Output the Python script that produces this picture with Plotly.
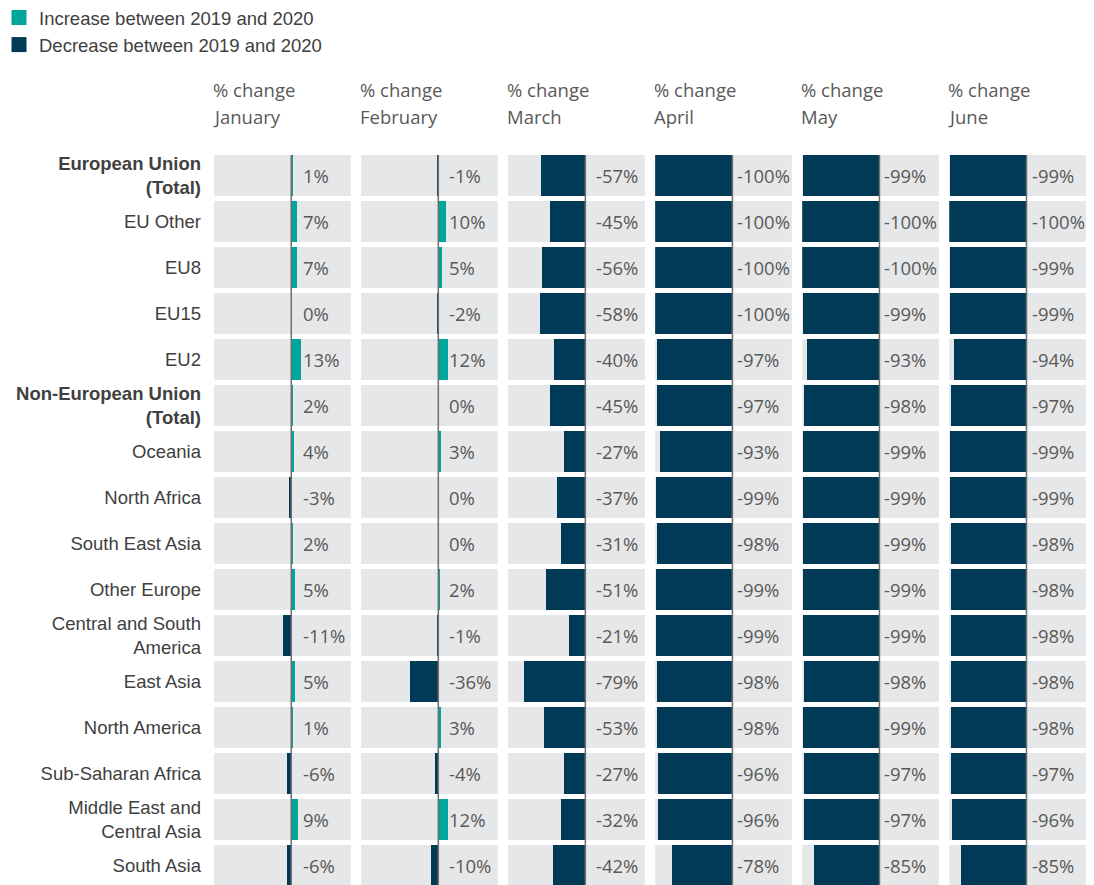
import plotly.graph_objects as go
from plotly.subplots import make_subplots

categories = [
    "European Union (Total)", "EU Other", "EU8", "EU15", "EU2",
    "Non-European Union (Total)", "Oceania", "North Africa", "South East Asia",
    "Other Europe", "Central and South America", "East Asia", "North America",
    "Sub-Saharan Africa", "Middle East and Central Asia", "South Asia",
]
category_labels = [
    "<b>European Union</b><br><b>(Total)</b>", "EU Other", "EU8", "EU15", "EU2",
    "<b>Non-European Union</b><br><b>(Total)</b>", "Oceania", "North Africa",
    "South East Asia", "Other Europe", "Central and South<br>America", "East Asia",
    "North America", "Sub-Saharan Africa", "Middle East and<br>Central Asia", "South Asia",
]
months = ["January", "February", "March", "April", "May", "June"]

jan = [1, 7, 7, 0, 13, 2, 4, -3, 2, 5, -11, 5, 1, -6, 9, -6]
feb = [-1, 10, 5, -2, 12, 0, 3, 0, 0, 2, -1, -36, 3, -4, 12, -10]
mar = [-57, -45, -56, -58, -40, -45, -27, -37, -31, -51, -21, -79, -53, -27, -32, -42]
apr = [-100, -100, -100, -100, -97, -97, -93, -99, -98, -99, -99, -98, -98, -96, -96, -78]
may = [-99, -100, -100, -99, -93, -98, -99, -99, -99, -99, -99, -98, -99, -97, -97, -85]
jun = [-99, -100, -99, -99, -94, -97, -99, -99, -98, -98, -98, -98, -98, -97, -96, -85]
series = [jan, feb, mar, apr, may, jun]

# styling
XMIN, XMAX = -100, 77
TEAL = "#00a59b"
NAVY = "#003a56"
CELL = "#e6e7e8"
TXT = "#595959"
FS = 18.5
label_shift = [10, 8.5, 8.5, 2.5, 2.5, 3]
ROW_PX = 46

# the page body has an 8px margin; the visible drawing area is 1078 px wide
W, H = 1078, 877
ML, MR, MT, MB = 206, 0, 147, 0
PW, PH = W - ML - MR, H - MT - MB

fig = make_subplots(rows=1, cols=6, shared_yaxes=True, horizontal_spacing=10.3 / PW)

for i, vals in enumerate(series):
    col = i + 1
    fig.add_trace(go.Bar(
        y=categories, x=[XMAX - XMIN] * len(categories), base=XMIN, orientation="h",
        marker=dict(color=CELL, line=dict(width=0)), width=0.9, showlegend=False,
        hoverinfo="skip"), row=1, col=col)
    inc = [v if v > 0 else None for v in vals]
    dec = [v if v < 0 else None for v in vals]
    fig.add_trace(go.Bar(
        y=categories, x=inc, orientation="h",
        marker=dict(color=TEAL, line=dict(width=0)), width=0.9,
        showlegend=False, hoverinfo="skip"), row=1, col=col)
    fig.add_trace(go.Bar(
        y=categories, x=dec, orientation="h",
        marker=dict(color=NAVY, line=dict(width=0)), width=0.9,
        showlegend=False, hoverinfo="skip"), row=1, col=col)
    xref = "x" if col == 1 else f"x{col}"
    fig.add_shape(type="line", xref=xref, yref="paper", x0=0, x1=0, y0=0, y1=1,
                  line=dict(color="#6e6e6e", width=1.5), layer="above")
    for c, v in zip(categories, vals):
        fig.add_annotation(x=0, y=c, xref=xref, yref="y", text=f"{v}%",
                           xanchor="left", xshift=label_shift[i], showarrow=False,
                           font=dict(family="Open Sans", size=FS, color=TXT))
    fig.add_annotation(x=XMIN, y=1, xref=xref, yref="paper", text="% change",
                       xanchor="left", yanchor="middle", yshift=MT - 81, xshift=-3,
                       showarrow=False, font=dict(family="Open Sans", size=FS, color=TXT))
    fig.add_annotation(x=XMIN, y=1, xref=xref, yref="paper", text=months[i],
                       xanchor="left", yanchor="middle", yshift=MT - 108, xshift=-3,
                       showarrow=False, font=dict(family="Open Sans", size=FS, color=TXT))
    fig.update_xaxes(range=[XMIN, XMAX], visible=False, fixedrange=True, row=1, col=col)

# legend entries
fig.add_trace(go.Scatter(x=[None], y=[None], mode="markers", name="Increase between 2019 and 2020",
                         legendgroup="a",
                         marker=dict(symbol="square", size=15, color=TEAL)), row=1, col=1)
fig.add_trace(go.Scatter(x=[None], y=[None], mode="markers", name="Decrease between 2019 and 2020",
                         legendgroup="b",
                         marker=dict(symbol="square", size=15, color=NAVY)), row=1, col=1)

fig.update_yaxes(categoryorder="array", categoryarray=categories,
                 range=[-0.45 + PH / ROW_PX, -0.45], showgrid=False, zeroline=False,
                 showline=False, ticks="", fixedrange=True)
fig.update_yaxes(tickmode="array", tickvals=categories, ticktext=category_labels,
                 tickfont=dict(family="Liberation Sans, Arial", size=FS, color="#404040"),
                 ticklabelstandoff=12, row=1, col=1)

fig.update_layout(
    width=W, height=H, barmode="overlay", bargap=0,
    margin=dict(l=ML, r=MR, t=MT, b=MB, autoexpand=False),
    plot_bgcolor="white", paper_bgcolor="white",
    legend=dict(x=(-9 - ML) / PW, y=1 + (MT + 9) / PH,
                xanchor="left", yanchor="top",
                font=dict(family="Liberation Sans, Arial", size=FS, color="#404040"),
                bgcolor="rgba(0,0,0,0)", tracegroupgap=0, itemwidth=30),
    hovermode=False,
)

fig.write_html("out.html")
